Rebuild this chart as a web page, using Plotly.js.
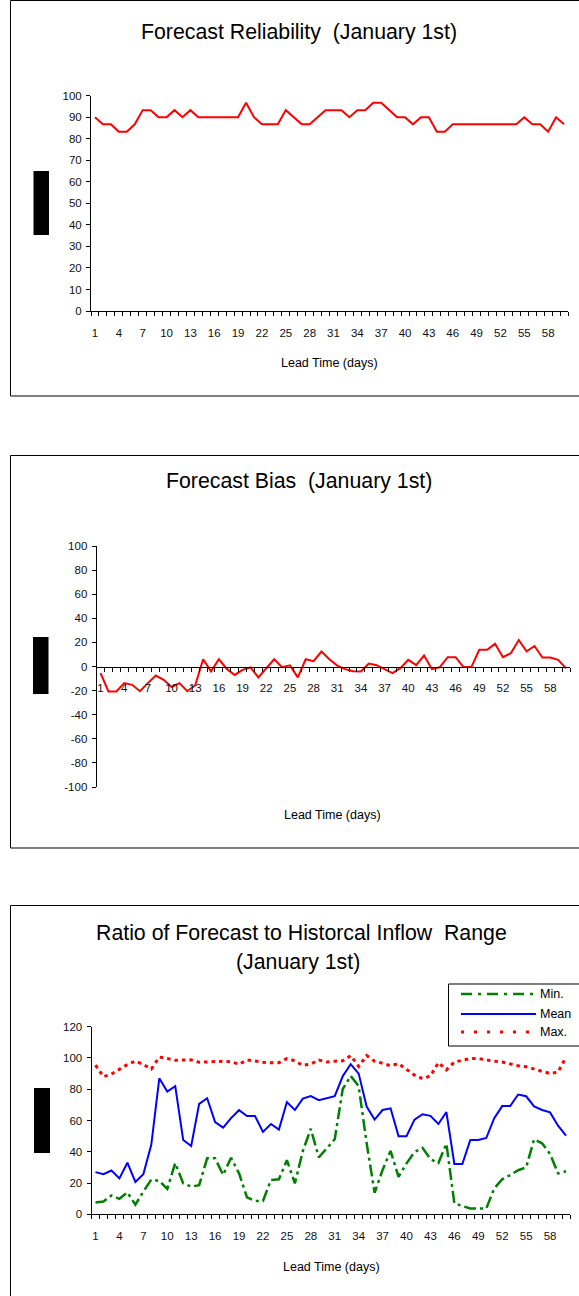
<!DOCTYPE html>
<html><head><meta charset="utf-8">
<script src="https://cdn.plot.ly/plotly-3.0.1.min.js"></script>
<style>html,body{margin:0;padding:0;background:#fff}#chart{width:579px;height:1296px}</style>
</head><body><div id="chart"></div>
<script>
// ---------- data ----------
const leadDays = [1,2,3,4,5,6,7,8,9,10,11,12,13,14,15,16,17,18,19,20,21,22,23,24,25,26,27,28,29,30,31,32,33,34,35,36,37,38,39,40,41,42,43,44,45,46,47,48,49,50,51,52,53,54,55,56,57,58,59,60];
const xTickVals = [1,4,7,10,13,16,19,22,25,28,31,34,37,40,43,46,49,52,55,58];
const xTickText = ["1","4","7","10","13","16","19","22","25","28","31","34","37","40","43","46","49","52","55","58"];

const reliability = [90,86.7,86.7,83.3,83.3,86.7,93.3,93.3,90,90,93.3,90,93.3,90,90,90,90,90,90,96.7,90,86.7,86.7,86.7,93.3,90,86.7,86.7,90,93.3,93.3,93.3,90,93.3,93.3,96.7,96.7,93.3,90,90,86.7,90,90,83.3,83.3,86.7,86.7,86.7,86.7,86.7,86.7,86.7,86.7,86.7,90,86.7,86.7,83.3,90,86.7];

const bias = [-5.5,-20.7,-20.7,-13.8,-15.2,-20.5,-13.8,-7.5,-11,-17,-13.8,-20.5,-15.5,6,-4,6,-2,-7,-2.8,-0.8,-9,-1.4,6,-0.5,1,-9,6,4.4,12.4,6,0.8,-2.2,-3.9,-4.1,2.5,1.1,-2.2,-5.5,-1.4,5.5,1.1,9.1,-2.2,-0.5,7.7,7.7,-0.5,-0.5,13.8,13.8,18.8,7.7,11,22,12.5,17,7.5,7.5,5.5,-1.5];

const ratioMin = [7.5,8.2,12,9.9,14,6.2,14.5,22.2,21.3,16.2,32.8,19.8,17.7,18.6,35.8,35.8,25.2,36.2,26.2,10.8,8.5,8.5,22,22.4,34.6,19.8,40.5,54.7,36.4,42.5,48,80,88.5,82,45.5,13.8,28.4,40.5,24,32.6,39.8,42.5,35.3,32.8,45.2,7,5.1,3.7,3.7,3.7,16.6,22.4,25.1,28.2,30,48,45.4,38.6,26.2,27.5];
const ratioMean = [27,25.6,28,23,33,20.7,25.6,44.6,87,78.5,82,47.5,43.7,70.6,74.2,59,55.4,61.5,66.6,62.9,62.9,52.7,57.8,54.2,71.8,66.7,74,75.6,73,74.2,75.6,88.3,96,90,68.9,60.6,66.7,67.8,50,50,60.6,64,63,57.8,65.4,32.2,32.2,47.5,47.5,48.8,61.5,69.2,69.2,76.6,75.5,69,66.7,65.2,56.7,50.3];
const ratioMax = [95.4,88,89.7,92.9,95.8,98,95.8,92.9,100.6,99.6,98.5,98.7,98.8,97.2,97.4,97.9,97.9,97.6,96,98.7,97.9,97.3,96.9,97,99.6,98.2,95.2,96.2,98.7,97.4,97.9,98.2,101.5,94.6,101.5,97.9,96.6,95,96.4,92.5,89,86.8,88.5,97,92.4,97.4,98.7,99.6,99.6,98.7,97.9,97.4,96.2,95,94.4,93,91.7,90,91,100.5];

const relTicks = [0,10,20,30,40,50,60,70,80,90,100];
const biasTicks = [-100,-80,-60,-40,-20,0,20,40,60,80,100];
const biasTickText = ["-100","-80","-60","-40","-20","0","20","40","60","80","100"];
const ratioTicks = [0,20,40,60,80,100,120];

const titles = ["Forecast Reliability  (January 1st)", "Forecast Bias  (January 1st)", "Ratio of Forecast to Historcal Inflow  Range", "(January 1st)"];
const xTitle = "Lead Time (days)";
const legendNames = ["Min.", "Mean", "Max."];

// ---------- layout helpers ----------
const W = 579, H = 1296;
const px = x => x / W;
const py = y => 1 - y / H;
const FONT = '"Liberation Sans", Arial, sans-serif';
const TITLE_SIZE = 21.3;
const XTITLE_SIZE = 12.5;

function xAxis(x0, x1, extra) {
  return Object.assign({
    domain: [px(x0), px(x1)], range: [0.5, 60.5], fixedrange: true,
    tickmode: 'array', tickvals: xTickVals, ticktext: xTickText,
    ticks: '', showline: true, linecolor: '#000', linewidth: 1,
    showgrid: false, zeroline: false,
    minor: {tick0: 0.5, dtick: 1, ticks: 'outside', ticklen: 4, tickcolor: '#000', tickwidth: 1, showgrid: false},
    tickfont: {family: FONT, size: 11.5, color: '#111'},
    ticklabelstandoff: 11
  }, extra);
}
function yAxis(y0, y1, range, tickvals, ticktext, anchor) {
  return {
    domain: [py(y1), py(y0)], range: range, fixedrange: true, anchor: anchor,
    tickmode: 'array', tickvals: tickvals, ticktext: ticktext,
    ticks: 'outside', ticklen: 4, tickcolor: '#000', tickwidth: 1,
    showline: true, linecolor: '#000', linewidth: 1,
    showgrid: false, zeroline: false,
    tickfont: {family: FONT, size: 11.5, color: '#111'},
    ticklabelstandoff: 2
  };
}

const traces = [
  {x: leadDays, y: reliability, xaxis: 'x', yaxis: 'y', mode: 'lines', line: {color: '#FF0000', width: 2}, name: 'Reliability'},
  {x: leadDays, y: bias, xaxis: 'x2', yaxis: 'y2', mode: 'lines', line: {color: '#FF0000', width: 2}, name: 'Bias'},
  {x: leadDays, y: ratioMin, xaxis: 'x3', yaxis: 'y3', mode: 'lines', line: {color: '#008000', width: 2.5, dash: '12px,4px,3px,4px'}, name: legendNames[0]},
  {x: leadDays, y: ratioMean, xaxis: 'x3', yaxis: 'y3', mode: 'lines', line: {color: '#0000FF', width: 2}, name: legendNames[1]},
  {x: leadDays, y: ratioMax, xaxis: 'x3', yaxis: 'y3', mode: 'lines', line: {color: '#FF0000', width: 3, dash: '3.5px,4px'}, name: legendNames[2]}
];

// chart geometry (pixels)
const c1 = {x0: 91, x1: 568, yTop: 95.7, yBot: 311};
const c2 = {x0: 96.6, x1: 570, yTop: 546, yBot: 787};
const c3 = {x0: 91.5, x1: 570, yTop: 1026.7, yBot: 1214.3};

const layout = {
  width: W, height: H, margin: {l: 0, r: 0, t: 0, b: 0},
  paper_bgcolor: '#fff', plot_bgcolor: 'rgba(0,0,0,0)', showlegend: false,
  font: {family: FONT, color: '#000'},
  xaxis: xAxis(c1.x0, c1.x1, {anchor: 'y'}),
  yaxis: yAxis(c1.yTop, c1.yBot, [0, 100], relTicks, relTicks.map(String), 'x'),
  xaxis2: xAxis(c2.x0, c2.x1, {anchor: 'free', position: py((c2.yTop + c2.yBot) / 2)}),
  yaxis2: yAxis(c2.yTop, c2.yBot, [-100, 100], biasTicks, biasTickText, 'x2'),
  xaxis3: xAxis(c3.x0, c3.x1, {anchor: 'y3'}),
  yaxis3: yAxis(c3.yTop, c3.yBot, [0, 120], ratioTicks, ratioTicks.map(String), 'x3'),
  shapes: [
    // chart frames
    {type: 'rect', xref: 'paper', yref: 'paper', x0: px(10.5), x1: px(600), y0: py(396), y1: py(0.5), line: {color: '#000', width: 1}},
    {type: 'rect', xref: 'paper', yref: 'paper', x0: px(10.5), x1: px(600), y0: py(848), y1: py(455.5), line: {color: '#000', width: 1}},
    {type: 'rect', xref: 'paper', yref: 'paper', x0: px(10.5), x1: px(600), y0: py(1310), y1: py(905.5), line: {color: '#000', width: 1}},
    // black blocks (redacted axis titles)
    {type: 'rect', xref: 'paper', yref: 'paper', x0: px(33.5), x1: px(49), y0: py(235), y1: py(171), fillcolor: '#000', line: {width: 0}},
    {type: 'rect', xref: 'paper', yref: 'paper', x0: px(33), x1: px(48.5), y0: py(694), y1: py(637), fillcolor: '#000', line: {width: 0}},
    {type: 'rect', xref: 'paper', yref: 'paper', x0: px(34), x1: px(50), y0: py(1153), y1: py(1088), fillcolor: '#000', line: {width: 0}},
    // legend box and samples
    {type: 'rect', xref: 'paper', yref: 'paper', x0: px(448.5), x1: px(600), y0: py(1046), y1: py(984), line: {color: '#000', width: 1}, fillcolor: '#fff'},
    {type: 'line', xref: 'paper', yref: 'paper', x0: px(461), x1: px(536), y0: py(994), y1: py(994), line: {color: '#008000', width: 2.5, dash: '11px,6px,3px,6px'}},
    {type: 'line', xref: 'paper', yref: 'paper', x0: px(461), x1: px(536), y0: py(1014), y1: py(1014), line: {color: '#0000FF', width: 2}},
    {type: 'line', xref: 'paper', yref: 'paper', x0: px(461), x1: px(536), y0: py(1032), y1: py(1032), line: {color: '#FF0000', width: 3, dash: '3px,10px'}}
  ],
  annotations: [
    {text: titles[0], xref: 'paper', yref: 'paper', x: px(299), y: py(32), xanchor: 'center', yanchor: 'middle', showarrow: false, font: {family: FONT, size: TITLE_SIZE, color: '#000'}},
    {text: titles[1], xref: 'paper', yref: 'paper', x: px(299), y: py(481), xanchor: 'center', yanchor: 'middle', showarrow: false, font: {family: FONT, size: TITLE_SIZE, color: '#000'}},
    {text: titles[2], xref: 'paper', yref: 'paper', x: px(301), y: py(933), xanchor: 'center', yanchor: 'middle', showarrow: false, font: {family: FONT, size: TITLE_SIZE, color: '#000'}},
    {text: titles[3], xref: 'paper', yref: 'paper', x: px(298), y: py(962), xanchor: 'center', yanchor: 'middle', showarrow: false, font: {family: FONT, size: TITLE_SIZE, color: '#000'}},
    {text: xTitle, xref: 'paper', yref: 'paper', x: px(329.5), y: py(363), xanchor: 'center', yanchor: 'middle', showarrow: false, font: {family: FONT, size: XTITLE_SIZE, color: '#000'}},
    {text: xTitle, xref: 'paper', yref: 'paper', x: px(332), y: py(815), xanchor: 'center', yanchor: 'middle', showarrow: false, font: {family: FONT, size: XTITLE_SIZE, color: '#000'}},
    {text: xTitle, xref: 'paper', yref: 'paper', x: px(331), y: py(1267), xanchor: 'center', yanchor: 'middle', showarrow: false, font: {family: FONT, size: XTITLE_SIZE, color: '#000'}},
    {text: legendNames[0], xref: 'paper', yref: 'paper', x: px(538), y: py(994), xanchor: 'left', yanchor: 'middle', showarrow: false, font: {family: FONT, size: 12.5, color: '#000'}},
    {text: legendNames[1], xref: 'paper', yref: 'paper', x: px(538), y: py(1014), xanchor: 'left', yanchor: 'middle', showarrow: false, font: {family: FONT, size: 12.5, color: '#000'}},
    {text: legendNames[2], xref: 'paper', yref: 'paper', x: px(538), y: py(1032), xanchor: 'left', yanchor: 'middle', showarrow: false, font: {family: FONT, size: 12.5, color: '#000'}}
  ]
};

Plotly.newPlot('chart', traces, layout, {staticPlot: true, displayModeBar: false});
</script>
</body></html>
